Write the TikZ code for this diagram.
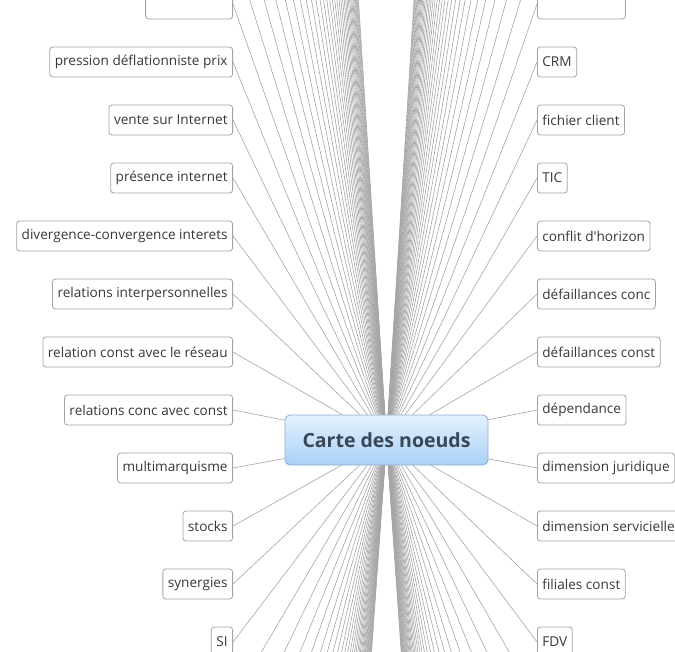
\documentclass[tikz,border=0pt]{standalone}
\usepackage{fontspec}
\setmainfont{Open Sans}[Ligatures=TeXOff]

\definecolor{edgegray}{HTML}{A5A5A5}
\definecolor{boxgray}{HTML}{A3A3A3}
\definecolor{textgray}{HTML}{383838}
\definecolor{rootline}{HTML}{8AADD3}
\definecolor{roottop}{HTML}{E4F1FD}
\definecolor{rootbot}{HTML}{A9D1F8}
\definecolor{roottext}{HTML}{3A4756}

\begin{document}
\begin{tikzpicture}[x=1pt, y=-1pt, font=\fontsize{13.6}{16}\selectfont,
  topic/.style={draw=boxgray, fill=white, rounded corners=3pt, line width=0.8pt,
    minimum height=30pt, inner xsep=5pt, text=textgray},
  ltopic/.style={topic, anchor=east},
  rtopic/.style={topic, anchor=west},
  branch/.style={draw=edgegray, line width=0.6pt}]
  \useasboundingbox (0,0) rectangle (675,651);
  \clip (0,0) rectangle (675,651);
  % central topic
  \node[draw=rootline, line width=0.8pt, top color=roottop, bottom color=rootbot,
    rounded corners=5pt, minimum width=203pt, minimum height=50pt,
    font=\fontsize{19.5}{22}\selectfont\bfseries, text=roottext] (root) at (386.5,440) {Carte des noeuds};
  % left column (right edges at x=233, one row every 58px)
  \node[ltopic, minimum width=87pt] (l0) at (233,4) {};
  \node[ltopic] (l1) at (233,62) {pression déflationniste prix};
  \node[ltopic] (l2) at (233,120) {vente sur Internet};
  \node[ltopic] (l3) at (233,178) {présence internet};
  \node[ltopic] (l4) at (233,236) {divergence-convergence interets};
  \node[ltopic] (l5) at (233,294) {relations interpersonnelles};
  \node[ltopic] (l6) at (233,352) {relation const avec le réseau};
  \node[ltopic] (l7) at (233,410) {relations conc avec const};
  \node[ltopic] (l8) at (233,468) {multimarquisme};
  \node[ltopic] (l9) at (233,526) {stocks};
  \node[ltopic] (l10) at (233,584) {synergies};
  \node[ltopic] (l11) at (233,642) {SI};
  % right column (left edges at x=537)
  \node[rtopic, minimum width=88pt] (r0) at (537,4) {};
  \node[rtopic] (r1) at (537,62) {CRM};
  \node[rtopic] (r2) at (537,120) {fichier client};
  \node[rtopic] (r3) at (537,178) {TIC};
  \node[rtopic] (r4) at (537,236) {conflit d'horizon};
  \node[rtopic] (r5) at (537,294) {défaillances conc};
  \node[rtopic] (r6) at (537,352) {défaillances const};
  \node[rtopic] (r7) at (537,410) {dépendance};
  \node[rtopic] (r8) at (537,468) {dimension juridique};
  \node[rtopic] (r9) at (537,526) {dimension servicielle};
  \node[rtopic] (r10) at (537,584) {filiales const};
  \node[rtopic] (r11) at (537,642) {FDV};
  % branches of the visible topics
  \foreach \i in {0,...,11} {
    \draw[branch] (l\i.east) -- (root);
    \draw[branch] (r\i.west) -- (root);
  }
  % branches of the topics outside the frame, above and below
  \foreach \k in {1,...,34} {
    \coordinate (lu\k) at (233,{4-58*\k});
    \coordinate (ru\k) at (537,{4-58*\k});
    \coordinate (ld\k) at (233,{642+58*\k});
    \coordinate (rd\k) at (537,{642+58*\k});
    \draw[branch] (lu\k) -- (root);
    \draw[branch] (ru\k) -- (root);
    \draw[branch] (ld\k) -- (root);
    \draw[branch] (rd\k) -- (root);
  }
\end{tikzpicture}
\end{document}
